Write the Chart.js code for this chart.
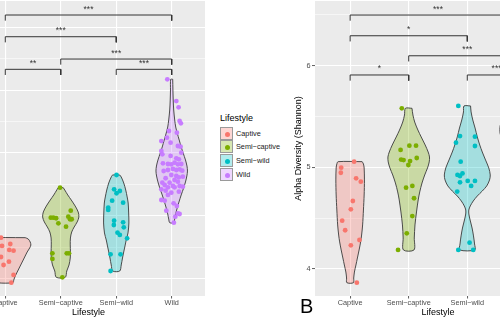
<!DOCTYPE html>
<html>
<head>
<meta charset="utf-8">
<script src="https://cdn.jsdelivr.net/npm/chart.js@4.4.1/dist/chart.umd.min.js"></script>
<style>
  html, body { margin: 0; padding: 0; background: #fff; }
  body { width: 500px; height: 319px; position: relative; overflow: hidden; font-family: "Liberation Sans", Arial, sans-serif; }
  canvas { position: absolute; top: 0; }
  #legend { position: absolute; left: 220px; top: 113px; }
  #legend .ttl { font-size: 9px; line-height: 11px; color: #000; margin-bottom: 2.5px; }
  #legend .item { position: relative; height: 13.9px; }
  #legend .key { position: absolute; left: 0; top: 0; width: 13px; height: 13px; box-sizing: border-box; border: 1px solid #9a9a9a; }
  #legend .dot { position: absolute; left: 4px; top: 4px; width: 5px; height: 5px; border-radius: 50%; }
  #legend .lab { position: absolute; left: 16px; top: 0; font-size: 7.3px; line-height: 13px; color: #1a1a1a; white-space: nowrap; }
  #tagB { position: absolute; left: 300px; top: 296px; font-size: 20px; line-height: 20px; color: #000; }
</style>
</head>
<body>
<canvas id="panelA" width="233" height="319" style="left:-28px"></canvas>
<div id="legend"></div>
<canvas id="panelB" width="290" height="319" style="left:290px"></canvas>
<div id="tagB">B</div>
<script>
const lifestyles = ['Captive', 'Semi\u2212captive', 'Semi\u2212wild', 'Wild'];
const colours = ['#F8766D', '#7CAE00', '#00BFC4', '#C77CFF'];

// Panel A: the y axis is cropped off, values are in axis units
// points: [jitter offset, value]; violins: [value, half width]
const aCaptivePts = [[-0.077, 1.650], [-0.059, 1.518], [0.09, 1.549], [0.072, 1.454], [0.149, 1.443], [-0.077, 1.342], [0.066, 1.268], [-0.031, 1.215], [0.149, 1.056], [0.108, 0.933], [-0.27, 1.613], [-0.233, 1.167], [-0.18, 1.374]];
const aCaptiveViolin = [[1.650, 0.359], [1.629, 0.413], [1.581, 0.449], [1.533, 0.461], [1.486, 0.44], [1.422, 0.395], [1.326, 0.341], [1.231, 0.287], [1.135, 0.233], [1.04, 0.18], [0.976, 0.153], [0.933, 0.138]];
const aSemiCaptivePts = [[-0.013, 2.446], [0.18, 2.08], [-0.18, 1.968], [-0.133, 1.968], [-0.084, 1.959], [-0.043, 1.879], [0.136, 1.984], [0.167, 1.943], [0.197, 1.943], [0.095, 1.825], [-0.151, 1.401], [-0.151, 1.311], [0.108, 1.401], [0.149, 1.401], [0.029, 1.019]];
const aSemiCaptiveViolin = [[2.446, 0.045], [2.409, 0.072], [2.33, 0.126], [2.25, 0.189], [2.154, 0.26], [2.059, 0.314], [1.98, 0.327], [1.9, 0.296], [1.82, 0.242], [1.74, 0.197], [1.645, 0.174], [1.535, 0.171], [1.422, 0.174], [1.326, 0.171], [1.215, 0.149], [1.119, 0.108], [1.019, 0.081]];
const aSemiWildPts = [[0.005, 2.648], [-0.038, 2.42], [0.005, 2.357], [0.065, 2.393], [-0.074, 2.239], [0.124, 2.207], [-0.145, 2.127], [-0.145, 2.091], [-0.038, 1.92], [-0.043, 1.852], [0.124, 1.895], [0.136, 1.815], [0.023, 1.729], [0.065, 1.693], [0.196, 1.64], [-0.102, 1.385], [0.077, 1.385], [-0.102, 1.119]];
const aSemiWildViolin = [[2.648, 0.063], [2.616, 0.09], [2.521, 0.135], [2.409, 0.171], [2.298, 0.197], [2.202, 0.215], [2.043, 0.224], [1.884, 0.228], [1.725, 0.212], [1.613, 0.18], [1.518, 0.158], [1.422, 0.135], [1.326, 0.113], [1.215, 0.09], [1.119, 0.063]];
const aWildPts = [[-0.079, 4.172], [0.083, 3.826], [0.124, 3.726], [0.142, 3.508], [0.165, 3.471], [-0.05, 3.349], [0.093, 3.322], [-0.086, 3.242], [-0.187, 3.189], [-0.02, 3.162],
  [0.111, 3.11], [0.16, 3.099], [-0.187, 3.03], [0.172, 3.003], [-0.169, 2.978], [-0.02, 2.951], [0.083, 2.914], [0.129, 2.898], [0.052, 2.844], [-0.007, 2.818],
  [0.111, 2.818], [0.172, 2.823], [-0.158, 2.834], [-0.068, 2.823], [0.022, 2.744], [0.083, 2.728], [0.142, 2.739], [0.19, 2.717], [-0.145, 2.712], [-0.068, 2.728],
  [-0.11, 2.596], [-0.007, 2.648], [0.083, 2.632], [0.129, 2.611], [0.201, 2.621], [0.052, 2.568], [-0.038, 2.525], [-0.169, 2.525], [0.111, 2.541], [-0.127, 2.489],
  [0.022, 2.473], [0.142, 2.473], [-0.068, 2.452], [0.201, 2.462], [-0.187, 2.42], [0.052, 2.452], [-0.11, 2.398], [-0.007, 2.366], [0.129, 2.382], [-0.068, 2.33],
  [-0.187, 2.25], [-0.127, 2.239], [0.034, 2.197], [0.093, 2.154], [-0.097, 2.08], [0.111, 2.038], [0.142, 2.027], [0.065, 1.984], [0.039, 1.889]];
const aWildViolin = [[4.172, 0.018], [4.002, 0.022], [3.842, 0.027], [3.683, 0.036], [3.524, 0.054], [3.412, 0.072], [3.317, 0.099], [3.205, 0.135], [3.094, 0.171], [2.998, 0.206], [2.887, 0.248], [2.791, 0.275], [2.711, 0.284], [2.632, 0.273], [2.537, 0.248], [2.441, 0.215], [2.33, 0.171], [2.218, 0.131], [2.123, 0.099], [2.027, 0.072], [1.947, 0.054], [1.889, 0.036]];
// [from group, to group, bracket level, label]
const aBrackets = [[1, 4, 5.196, '***'], [1, 3, 4.85, '***'], [2, 4, 4.495, '***'], [1, 2, 4.331, '**'], [3, 4, 4.331, '***']];
const aTicks = [1, 1.5, 2, 2.5, 3, 3.5, 4, 4.5, 5];

// Panel B: Shannon alpha diversity
const bCaptivePts = [[0.068, 5.056], [-0.153, 4.997], [-0.159, 4.947], [0.102, 4.892], [0.182, 4.859], [0.046, 4.669], [0.012, 4.587], [-0.136, 4.475], [-0.085, 4.381], [0.159, 4.285], [0.012, 4.233], [0.114, 3.865]];
const bCaptiveViolin = [[5.056, 0.205], [5.033, 0.227], [4.994, 0.239], [4.876, 0.244], [4.728, 0.239], [4.58, 0.227], [4.433, 0.213], [4.334, 0.196], [4.266, 0.179], [4.187, 0.153], [4.108, 0.124], [4.039, 0.099], [3.97, 0.073], [3.911, 0.061], [3.865, 0.056]];
const bSemiCaptivePts = [[-0.118, 5.581], [0.011, 5.213], [0.125, 5.213], [-0.139, 5.171], [-0.13, 5.077], [-0.088, 5.072], [0.023, 5.062], [0.137, 5.092], [-0.006, 5.023], [0.062, 4.817], [-0.045, 4.8], [0.091, 4.696], [0.061, 4.521], [-0.033, 4.351], [-0.182, 4.187]];
const bSemiCaptiveViolin = [[5.581, 0.056], [5.515, 0.072], [5.446, 0.102], [5.367, 0.157], [5.299, 0.213], [5.22, 0.281], [5.151, 0.332], [5.102, 0.355], [5.053, 0.35], [4.994, 0.321], [4.925, 0.273], [4.846, 0.227], [4.758, 0.188], [4.679, 0.162], [4.561, 0.133], [4.433, 0.107], [4.305, 0.095], [4.187, 0.09]];
const bSemiWildPts = [[-0.153, 5.604], [-0.124, 5.308], [-0.193, 5.243], [0.131, 5.302], [0.131, 5.21], [-0.113, 5.056], [-0.167, 4.925], [-0.124, 4.915], [-0.082, 4.94], [-0.124, 4.853], [0.007, 4.866], [0.066, 4.817], [0.131, 4.866], [-0.172, 4.762], [0.039, 4.259], [-0.153, 4.187], [0.102, 4.187]];
const bSemiWildViolin = [[5.604, 0.056], [5.545, 0.065], [5.466, 0.094], [5.387, 0.133], [5.299, 0.171], [5.22, 0.213], [5.151, 0.256], [5.072, 0.312], [4.994, 0.367], [4.925, 0.392], [4.876, 0.38], [4.817, 0.332], [4.767, 0.256], [4.718, 0.171], [4.669, 0.102], [4.62, 0.051], [4.58, 0.026], [4.541, 0.027], [4.482, 0.048], [4.403, 0.082], [4.325, 0.106], [4.246, 0.124], [4.187, 0.128]];
const bWildPts = [[-0.02, 6.15], [0.1, 5.9], [-0.12, 5.75], [0.15, 5.62], [-0.05, 5.55], [0.2, 5.5], [-0.18, 5.45], [0.05, 5.42], [-0.1, 5.4], [0.12, 5.38], [0.0, 5.35], [-0.15, 5.33], [0.18, 5.3], [-0.06, 5.28], [0.08, 5.25], [-0.2, 5.2], [0.1, 5.12], [-0.08, 5.05], [0.02, 4.9], [-0.03, 4.75]];
const bWildViolin = [[6.15, 0.02], [6.0, 0.05], [5.85, 0.1], [5.7, 0.2], [5.55, 0.31], [5.47, 0.4], [5.41, 0.438], [5.37, 0.444], [5.33, 0.438], [5.27, 0.4], [5.2, 0.31], [5.05, 0.16], [4.9, 0.06], [4.75, 0.02]];
const bBrackets = [[1, 4, 6.499, '***'], [1, 3, 6.295, '*'], [2, 4, 6.098, '***'], [1, 2, 5.909, '*'], [3, 4, 5.909, '***']];
const bTicks = [4, 4.5, 5, 5.5, 6, 6.5];

Chart.defaults.font.family = '"Liberation Sans", Arial, sans-serif';

// grey panel background like theme_grey
const panelBg = {
    id: 'panelBg',
    beforeDraw(chart) {
        const { ctx, chartArea: a } = chart;
        ctx.save();
        ctx.fillStyle = '#EBEBEB';
        ctx.fillRect(a.left, a.top, a.right - a.left, a.bottom - a.top);
        ctx.restore();
    }
};

// significance stars above each bracket
function sigLabels(brackets) {
    return {
        id: 'sigLabels',
        afterDatasetsDraw(chart) {
            const { ctx, scales: { x, y } } = chart;
            ctx.save();
            ctx.font = '8.5px "Liberation Sans", Arial, sans-serif';
            ctx.fillStyle = '#333';
            ctx.textAlign = 'center';
            ctx.textBaseline = 'alphabetic';
            brackets.forEach(([a, b, level, label]) => {
                ctx.fillText(label, x.getPixelForValue((a + b) / 2), y.getPixelForValue(level) - 3.5);
            });
            ctx.restore();
        }
    };
}

function hexToRgba(hex, alpha) {
    const n = parseInt(hex.slice(1), 16);
    return `rgba(${(n >> 16) & 255}, ${(n >> 8) & 255}, ${n & 255}, ${alpha})`;
}

// closed outline: right side top to bottom, then left side back up
function violinData(center, profile) {
    const right = profile.map(([v, w]) => ({ x: center + w, y: v }));
    const left = profile.slice().reverse().map(([v, w]) => ({ x: center - w, y: v }));
    const pts = right.concat(left);
    pts.push(pts[0]);
    return pts;
}

function buildDatasets(violins, points, brackets, tick) {
    const sets = [];
    violins.forEach((profile, i) => {
        sets.push({
            data: violinData(i + 1, profile),
            showLine: true,
            fill: 'shape',
            tension: 0.3,
            backgroundColor: hexToRgba(colours[i], 0.3),
            borderColor: '#3a3a3a',
            borderWidth: 0.9,
            pointRadius: 0,
            order: 3
        });
    });
    brackets.forEach(([a, b, level]) => {
        sets.push({
            data: [{ x: a, y: level - tick }, { x: a, y: level }, { x: b, y: level }, { x: b, y: level - tick }],
            showLine: true,
            fill: false,
            borderColor: '#333',
            borderWidth: 1,
            pointRadius: 0,
            order: 2
        });
    });
    points.forEach((pts, i) => {
        sets.push({
            data: pts.map(([dx, v]) => ({ x: i + 1 + dx, y: v })),
            backgroundColor: colours[i],
            borderWidth: 0,
            pointRadius: 2.4,
            order: 1
        });
    });
    return sets;
}

function isMajor(c) {
    return c.tick && Number.isInteger(c.tick.value);
}

// drop the label overflow padding so the plot area stays where we put it
function noOverflow(s) {
    s.paddingTop = 0;
    s.paddingBottom = 0;
    s.paddingLeft = 0;
    s.paddingRight = 0;
}

function xScale() {
    return {
        type: 'linear',
        min: 0.4,
        max: 4.6,
        afterBuildTicks: s => { s.ticks = lifestyles.map((l, i) => ({ value: i + 1 })); },
        afterFit: s => { s.height = 22; noOverflow(s); },
        ticks: {
            callback: v => lifestyles[v - 1],
            color: '#4D4D4D',
            font: { size: 7.3 },
            padding: 0.5,
            autoSkip: false,
            maxRotation: 0
        },
        grid: { color: '#FFFFFF', lineWidth: 1.1, tickLength: 2.5, tickColor: '#333', tickWidth: 0.8 },
        border: { display: false },
        title: { display: true, text: 'Lifestyle', color: '#000', font: { size: 9 }, padding: { top: 0, bottom: 0 } }
    };
}

const baseOptions = {
    responsive: false,
    animation: false,
    events: [],
    plugins: { legend: { display: false }, tooltip: { enabled: false } }
};

// Panel A (left, cropped on the left edge)
new Chart(document.getElementById('panelA'), {
    type: 'scatter',
    data: {
        datasets: buildDatasets(
            [aCaptiveViolin, aSemiCaptiveViolin, aSemiWildViolin, aWildViolin],
            [aCaptivePts, aSemiCaptivePts, aSemiWildPts, aWildPts],
            aBrackets, 0.09)
    },
    options: {
        ...baseOptions,
        layout: { autoPadding: false, padding: { top: 1, bottom: 1, left: 0, right: 0 } },
        scales: {
            x: xScale(),
            y: {
                min: 0.721,
                max: 5.419,
                afterBuildTicks: s => { s.ticks = aTicks.map(v => ({ value: v })); },
                afterFit: s => { s.width = 0; noOverflow(s); },
                ticks: { display: false },
                grid: { color: '#FFFFFF', lineWidth: c => isMajor(c) ? 1.1 : 0.55, drawTicks: false },
                border: { display: false }
            }
        }
    },
    plugins: [panelBg, sigLabels(aBrackets)]
});

// Panel B (right, cropped on the right edge)
new Chart(document.getElementById('panelB'), {
    type: 'scatter',
    data: {
        datasets: buildDatasets(
            [bCaptiveViolin, bSemiCaptiveViolin, bSemiWildViolin, bWildViolin],
            [bCaptivePts, bSemiCaptivePts, bSemiWildPts, bWildPts],
            bBrackets, 0.056)
    },
    options: {
        ...baseOptions,
        layout: { autoPadding: false, padding: { top: 1, bottom: 1, left: 0, right: 19 } },
        scales: {
            x: xScale(),
            y: {
                min: 3.734,
                max: 6.637,
                afterBuildTicks: s => { s.ticks = bTicks.map(v => ({ value: v })); },
                afterFit: s => { s.width = 25; noOverflow(s); },
                ticks: {
                    callback: v => Number.isInteger(v) ? String(v) : '',
                    color: '#4D4D4D',
                    font: { size: 7.3 },
                    padding: 1.5
                },
                grid: {
                    color: '#FFFFFF',
                    lineWidth: c => isMajor(c) ? 1.1 : 0.55,
                    tickLength: 3,
                    tickColor: c => isMajor(c) ? '#333' : 'rgba(0,0,0,0)',
                    tickWidth: 0.8
                },
                border: { display: false },
                title: { display: true, text: 'Alpha Diversity (Shannon)', color: '#000', font: { size: 9 }, padding: { top: 3, bottom: 0 } }
            }
        }
    },
    plugins: [panelBg, sigLabels(bBrackets)]
});

// Legend for panel A
function buildLegend() {
    const box = document.getElementById('legend');
    let html = '<div class="ttl">Lifestyle</div>';
    lifestyles.forEach((name, i) => {
        html += `<div class="item"><div class="key" style="background:${hexToRgba(colours[i], 0.3)}">` +
            `<div class="dot" style="background:${colours[i]}"></div></div><div class="lab">${name}</div></div>`;
    });
    box.innerHTML = html;
}

buildLegend();
</script>
</body>
</html>
